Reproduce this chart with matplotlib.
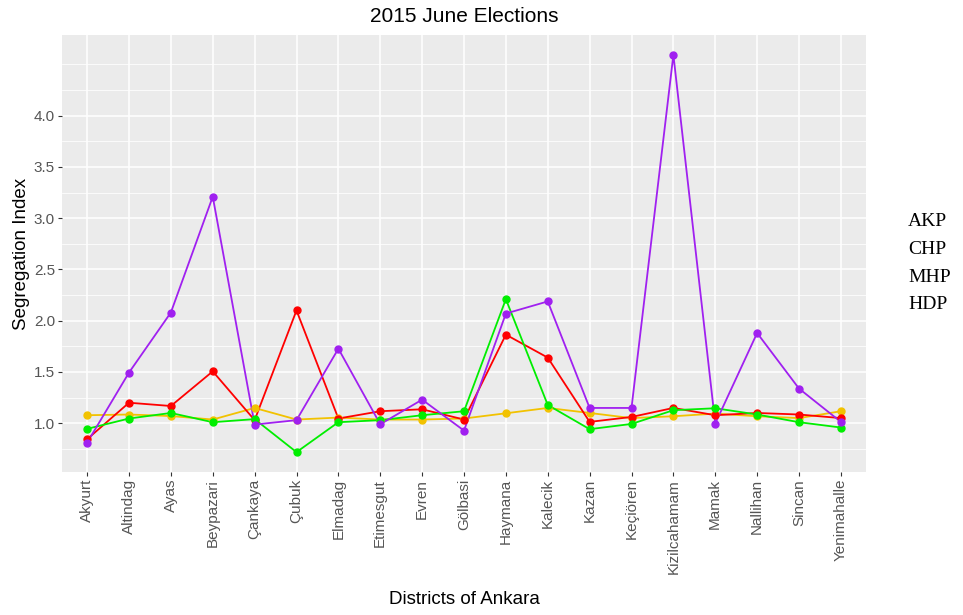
import matplotlib
matplotlib.use("Agg")
import matplotlib.pyplot as plt
import numpy as np

districts = ["Akyurt", "Altindag", "Ayas", "Beypazari", "Çankaya", "Çubuk", "Elmadag",
             "Etimesgut", "Evren", "Gölbasi", "Haymana", "Kalecik", "Kazan", "Keçiören",
             "Kizilcahamam", "Mamak", "Nallihan", "Sincan", "Yenimahalle"]

akp = [1.078, 1.085, 1.07, 1.036, 1.149, 1.036, 1.055, 1.036, 1.036, 1.046, 1.097, 1.149,
       1.10, 1.05, 1.068, 1.094, 1.068, 1.05, 1.117]
chp = [0.844, 1.20, 1.168, 1.506, 1.03, 2.10, 1.046, 1.117, 1.136, 1.036, 1.864, 1.64,
       1.013, 1.061, 1.149, 1.078, 1.10, 1.085, 1.05]
mhp = [0.945, 1.046, 1.10, 1.01, 1.04, 0.718, 1.01, 1.03, 1.078, 1.117, 2.21, 1.178,
       0.942, 0.993, 1.127, 1.146, 1.085, 1.01, 0.958]
hdp = [0.81, 1.494, 2.08, 3.21, 0.987, 1.03, 1.727, 0.99, 1.23, 0.928, 2.07, 2.188,
       1.149, 1.149, 4.593, 0.997, 1.88, 1.338, 1.013]

party_names = ["AKP", "CHP", "MHP", "HDP"]
series = [akp, chp, mhp, hdp]
colors = ["#F2C200", "#FF0000", "#00EE00", "#A020F0"]

y_major = [1.0, 1.5, 2.0, 2.5, 3.0, 3.5, 4.0]
y_minor = [0.75, 1.25, 1.75, 2.25, 2.75, 3.25, 3.75, 4.25, 4.5]

W, H = 963, 615
L, R, T, B = 62, 866, 35, 472
fig = plt.figure(figsize=(W / 100, H / 100), dpi=100)
ax = fig.add_axes([L / W, (H - B) / H, (R - L) / W, (B - T) / H])
ax.set_facecolor("#EBEBEB")
for s in ax.spines.values():
    s.set_visible(False)

x = np.arange(len(districts))
for vals, c in zip(series, colors):
    ax.plot(x, vals, color=c, lw=1.3, zorder=3)
for vals, c in zip(series, colors):
    ax.plot(x, vals, 'o', color=c, ms=5, zorder=4)

ax.set_xlim(-0.6, len(districts) - 1 + 0.6)
allv = np.concatenate([np.array(s) for s in series])
rng = allv.max() - allv.min()
ax.set_ylim(allv.min() - 0.05 * rng, allv.max() + 0.05 * rng)

tick_col = "#555555"
ax.set_yticks(y_major)
ax.set_yticklabels([f"{v:.1f}" for v in y_major])
ax.set_yticks(y_minor, minor=True)
ax.set_xticks(x)
ax.set_xticklabels(districts, rotation=90, fontfamily="Liberation Sans", fontsize=11, color=tick_col)
for lab in ax.get_yticklabels():
    lab.set_fontfamily("Liberation Sans")
    lab.set_fontsize(11)
    lab.set_color(tick_col)

ax.grid(which="major", color="white", lw=1.1, zorder=0)
ax.grid(which="minor", axis="y", color="white", lw=0.55, zorder=0)
ax.set_axisbelow(True)
ax.tick_params(which="major", length=3, width=0.8, color="#333333", pad=2)
ax.tick_params(which="minor", length=0)

ax.set_title("2015 June Elections", fontfamily="Liberation Sans", fontsize=15,
             y=(B - 17) / (B - T), va="center", pad=0)
ax.set_xlabel("Districts of Ankara", fontfamily="Liberation Sans", fontsize=13.5, va="center")
ax.xaxis.set_label_coords(0.5, (B - 600) / (B - T))
ax.set_ylabel("Segregation Index", fontfamily="Liberation Sans", fontsize=13.5, va="center")
ax.yaxis.set_label_coords((21 - L) / (R - L), 0.5)

leg_y = [222, 250, 277, 304]
for name, yy in zip(party_names, leg_y):
    fig.text(908 / W, 1 - yy / H, name, fontfamily="Liberation Serif", fontsize=14,
             va="center", ha="left")

fig.savefig("out.png", dpi=100)
